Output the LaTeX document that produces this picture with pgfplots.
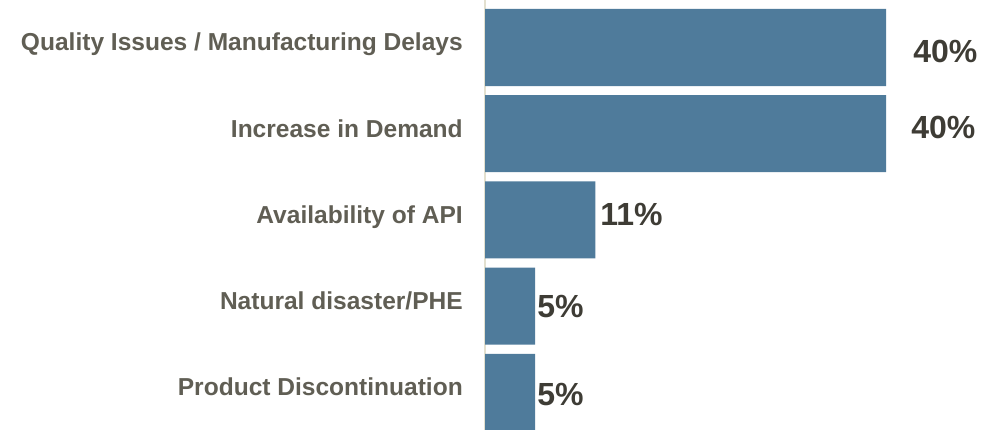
\documentclass[border=0pt]{standalone}
\usepackage{pgfplots}
\pgfplotsset{compat=1.18}
\usepackage{fontspec}
\setmainfont{Liberation Sans}
\definecolor{barblue}{HTML}{4F7B9B}
\definecolor{labgray}{HTML}{605E54}
\definecolor{valgray}{HTML}{3E3C35}
\definecolor{axisbeige}{HTML}{E3E0CF}
\begin{document}
\begin{tikzpicture}
\begin{axis}[
  scale only axis,
  x=7.519pt, y=64.65pt,
  xmin=0, xmax=50.17,
  ymin=-0.551, ymax=4.437,
  y dir=reverse,
  axis x line=none,
  axis y line*=left,
  axis line style={draw=axisbeige, line width=0.8pt, -},
  ytick={0,1,2,3,4},
  yticklabels={Quality Issues / Manufacturing Delays, Increase in Demand, Availability of API, Natural disaster/PHE, Product Discontinuation},
  major tick length=0pt,
  yticklabel style={font=\fontsize{18.4}{22}\selectfont\bfseries, text=labgray, inner sep=0pt, xshift=-16.5pt, text height=0.75em, text depth=0.25em},
]
\addplot[xbar, bar width=57.75pt, fill=barblue, draw=none, bar shift=0pt] coordinates {
  (40,0) (40,1) (11,2) (5,3) (5,4)
};
\addplot[only marks, mark=none, point meta=explicit symbolic,
  nodes near coords,
  every node near coord/.style={anchor=west, inner sep=0pt, font=\fontsize{24}{28}\selectfont\bfseries, text=valgray}]
  table[meta=lab] {
x y lab
42.69 0.046 40\%
42.50 0.925 40\%
11.47 1.942 11\%
5.19 3.0 5\%
5.19 4.023 5\%
};
\end{axis}
\pgfresetboundingbox
\path[use as bounding box] ([xshift=-363.75pt]current axis.south west) rectangle (current axis.north east);
\end{tikzpicture}
\end{document}
